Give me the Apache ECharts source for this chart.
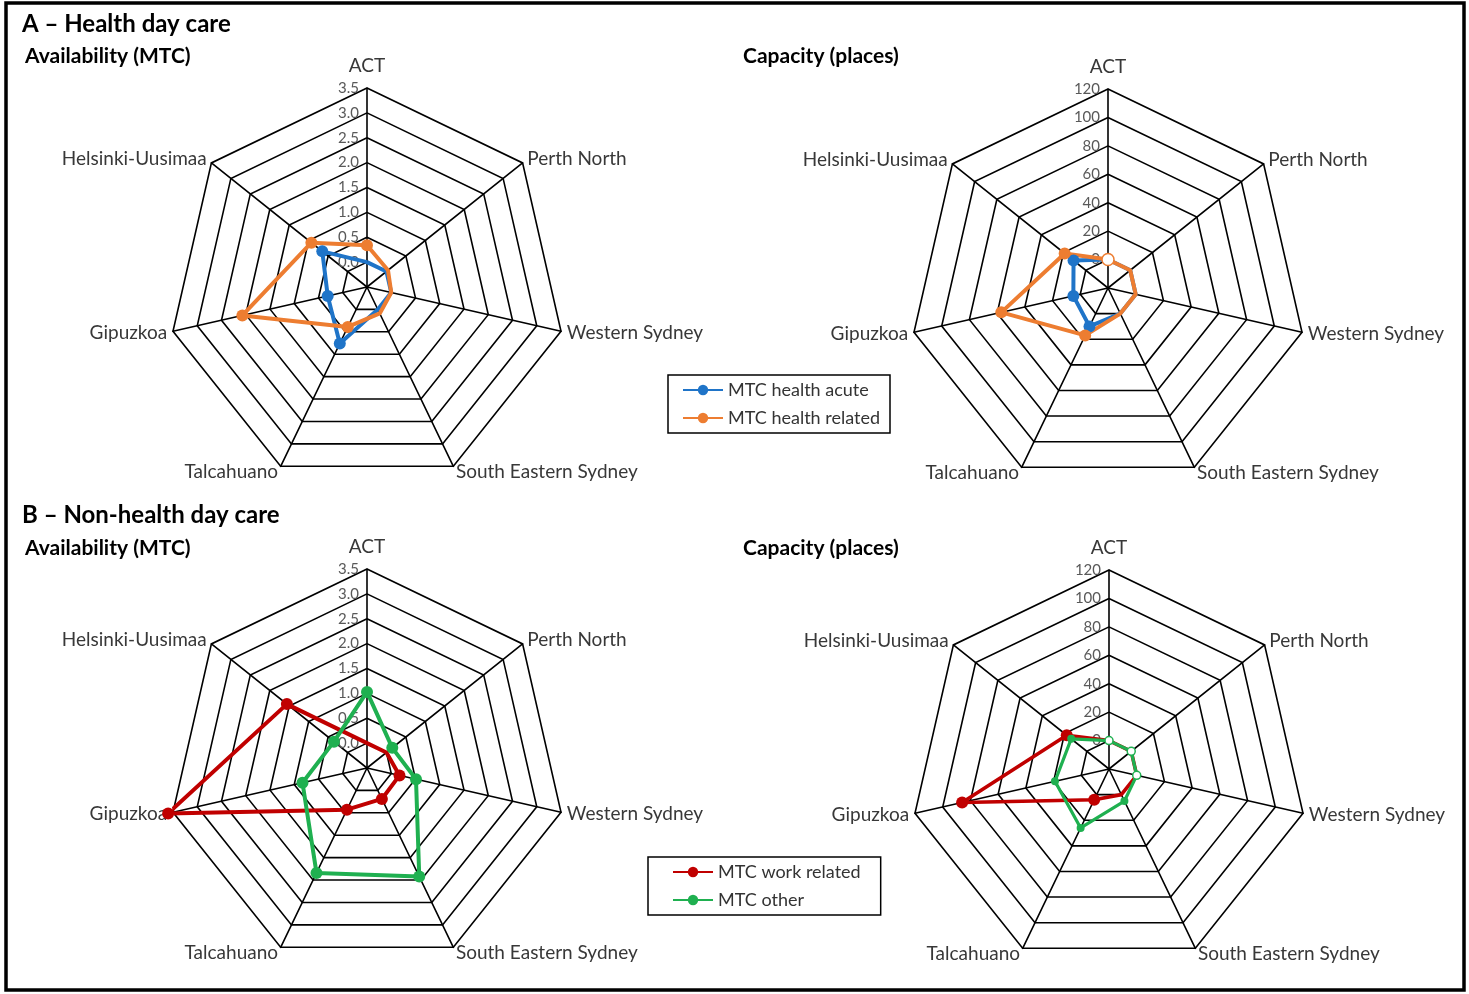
<!DOCTYPE html>
<html><head><meta charset="utf-8">
<script src="https://cdn.jsdelivr.net/npm/echarts@6/dist/echarts.min.js"></script>
<style>html,body{margin:0;padding:0;background:#fff}#c{width:1469px;height:994px}</style>
</head><body><div id="c"></div>
<script>
// Categories in clockwise order starting at the top
const categories = ['ACT','Perth North','Western Sydney','South Eastern Sydney','Talcahuano','Gipuzkoa','Helsinki-Uusimaa'];

// Axis ranges (tick labels are generated from these)
const availabilityMin = -0.5, availabilityMax = 3.5, availabilitySplits = 8;
const capacityMin = -20, capacityMax = 120, capacitySplits = 7;

// A – Health day care
const healthAcuteAvailability   = [0, 0, 0, 0, 0.76, 0.31, 0.65];
const healthRelatedAvailability = [0.34, 0.04, 0.0, 0.09, 0.39, 2.07, 0.93];
const healthAcuteCapacity       = [0, 0, 0, 0, 10, 5, 11];
const healthRelatedCapacity     = [0, 0, 0, 0, 17, 57, 19];

// B – Non-health day care
const workRelatedAvailability = [0, 0, 0.17, 0.19, 0.43, 3.6, 1.56];
const otherAvailability       = [1.03, 0.15, 0.51, 1.92, 1.84, 0.83, 0.35];
const workRelatedCapacity     = [0, 0, 0, 0, 4, 86, 18];
const otherCapacity           = [0, 0, 0, 5, 26, 19, 14];

// marker styles per point: f = filled, w = white, n = none
const mkAcuteA   = ['n','n','n','n','f','f','f'];
const mkRelA     = ['f','n','n','n','f','f','f'];
const mkAcuteC   = ['n','n','n','n','f','f','f'];
const mkRelC     = ['w','n','n','n','f','f','f'];
const mkWorkA    = ['n','n','f','f','f','f','f'];
const mkOtherA   = ['f','f','f','f','f','f','f'];
const mkWorkC    = ['n','n','n','n','f','f','f'];
const mkOtherC   = ['w','w','w','f','f','f','f'];

const C_BLUE = '#1f74c8', C_ORANGE = '#ed7d31', C_RED = '#c00000', C_GREEN = '#1fb050';
const FONT = 'Lato';

const centers = [[367, 287], [1108, 288], [367, 768], [1109, 769]];
const R = 199;

// ECharts radar runs counter-clockwise; reorder so visual order is clockwise
const radarOrder = [0, 6, 5, 4, 3, 2, 1];

function makeRadar(idx, min, max, splits, fmt) {
  return {
    center: centers[idx], radius: R, startAngle: 90, shape: 'polygon',
    splitNumber: splits,
    indicator: radarOrder.map(function (k) {
      const ind = { name: categories[k], min: min, max: max };
      if (k === 0) {
        ind.nameGap = 13;
        ind.axisLabel = { show: true, showMinLabel: false, color: '#595959', fontSize: 15, fontFamily: FONT, formatter: fmt };
      }
      return ind;
    }),
    nameGap: 6,
    axisName: { color: '#383838', fontSize: 19, fontFamily: FONT },
    splitLine: { lineStyle: { color: '#000', width: 1.6 } },
    splitArea: { show: false },
    axisLine: { lineStyle: { color: '#000', width: 1.6 } },
    axisTick: { show: false },
    axisLabel: { show: false }
  };
}

function polyData(values, marks, color) {
  const pts = values.map(function (v, k) {
    const item = { value: [v, k] };
    if (marks[k] === 'n') item.symbol = 'none';
    else if (marks[k] === 'w') item.itemStyle = { color: '#fff', borderColor: color, borderWidth: 1.5 };
    return item;
  });
  pts.push({ value: [values[0], values.length], symbol: 'none' });
  return pts;
}

function lineSeries(name, polarIndex, values, marks, color, size, width) {
  return {
    type: 'line', name: name, coordinateSystem: 'polar', polarIndex: polarIndex,
    data: polyData(values, marks, color),
    symbol: 'circle', symbolSize: size, clip: false, silent: true,
    lineStyle: { color: color, width: width },
    itemStyle: { color: color },
    z: 3
  };
}

const availFmt = function (v) { return v.toFixed(1); };
const capFmt = function (v) { return String(Math.round(v)); };

const T1 = { fontSize: 24, fontWeight: 'bold', fontFamily: FONT, color: '#000' };
const T2 = { fontSize: 21, fontWeight: 'bold', fontFamily: FONT, color: '#000' };
const LEG = { fontSize: 18, color: '#333', fontFamily: FONT };

const option = {
  animation: false,
  backgroundColor: '#fff',
  graphic: [{ type: 'rect', shape: { x: 6, y: 3, width: 1458, height: 987 }, style: { fill: 'none', stroke: '#000', lineWidth: 3.5 }, z: 100 }],
  title: [
    { text: 'A – Health day care', left: 22, top: 12, padding: 0, textStyle: T1 },
    { text: 'Availability (MTC)', left: 25, top: 46, padding: 0, textStyle: T2 },
    { text: 'Capacity (places)', left: 743, top: 46, padding: 0, textStyle: T2 },
    { text: 'B – Non-health day care', left: 22, top: 503, padding: 0, textStyle: T1 },
    { text: 'Availability (MTC)', left: 25, top: 538, padding: 0, textStyle: T2 },
    { text: 'Capacity (places)', left: 743, top: 538, padding: 0, textStyle: T2 }
  ],
  legend: [
    { data: ['MTC health acute', 'MTC health related'], orient: 'vertical', left: 668, top: 375,
      borderColor: '#000', borderWidth: 1.5, padding: [6, 10, 6, 14], itemGap: 10, itemWidth: 40, itemHeight: 13,
      textStyle: LEG, selectedMode: false },
    { data: ['MTC work related', 'MTC other'], orient: 'vertical', left: 648, top: 857,
      borderColor: '#000', borderWidth: 1.5, padding: [6, 20, 6, 24], itemGap: 10, itemWidth: 40, itemHeight: 13,
      textStyle: LEG, selectedMode: false }
  ],
  radar: [
    makeRadar(0, availabilityMin, availabilityMax, availabilitySplits, availFmt),
    makeRadar(1, capacityMin, capacityMax, capacitySplits, capFmt),
    makeRadar(2, availabilityMin, availabilityMax, availabilitySplits, availFmt),
    makeRadar(3, capacityMin, capacityMax, capacitySplits, capFmt)
  ],
  polar: centers.map(function (c) { return { center: c, radius: R }; }),
  angleAxis: [0, 1, 2, 3].map(function (i) {
    return { polarIndex: i, type: 'value', min: 0, max: categories.length, startAngle: 90, clockwise: true, show: false };
  }),
  radiusAxis: [0, 1, 2, 3].map(function (i) {
    const isAvail = (i % 2 === 0);
    return { polarIndex: i, type: 'value', min: isAvail ? availabilityMin : capacityMin, max: isAvail ? availabilityMax : capacityMax, show: false };
  }),
  series: [
    lineSeries('MTC health acute', 0, healthAcuteAvailability, mkAcuteA, C_BLUE, 12, 4),
    lineSeries('MTC health related', 0, healthRelatedAvailability, mkRelA, C_ORANGE, 12, 4),
    lineSeries('MTC health acute', 1, healthAcuteCapacity, mkAcuteC, C_BLUE, 12, 4),
    lineSeries('MTC health related', 1, healthRelatedCapacity, mkRelC, C_ORANGE, 12, 4),
    lineSeries('MTC work related', 2, workRelatedAvailability, mkWorkA, C_RED, 12, 4),
    lineSeries('MTC other', 2, otherAvailability, mkOtherA, C_GREEN, 12, 4),
    lineSeries('MTC work related', 3, workRelatedCapacity, mkWorkC, C_RED, 12, 3.6),
    lineSeries('MTC other', 3, otherCapacity, mkOtherC, C_GREEN, 8, 3.2)
  ]
};

const chart = echarts.init(document.getElementById('c'), null, { renderer: 'canvas' });
chart.setOption(option);
</script>
</body></html>
